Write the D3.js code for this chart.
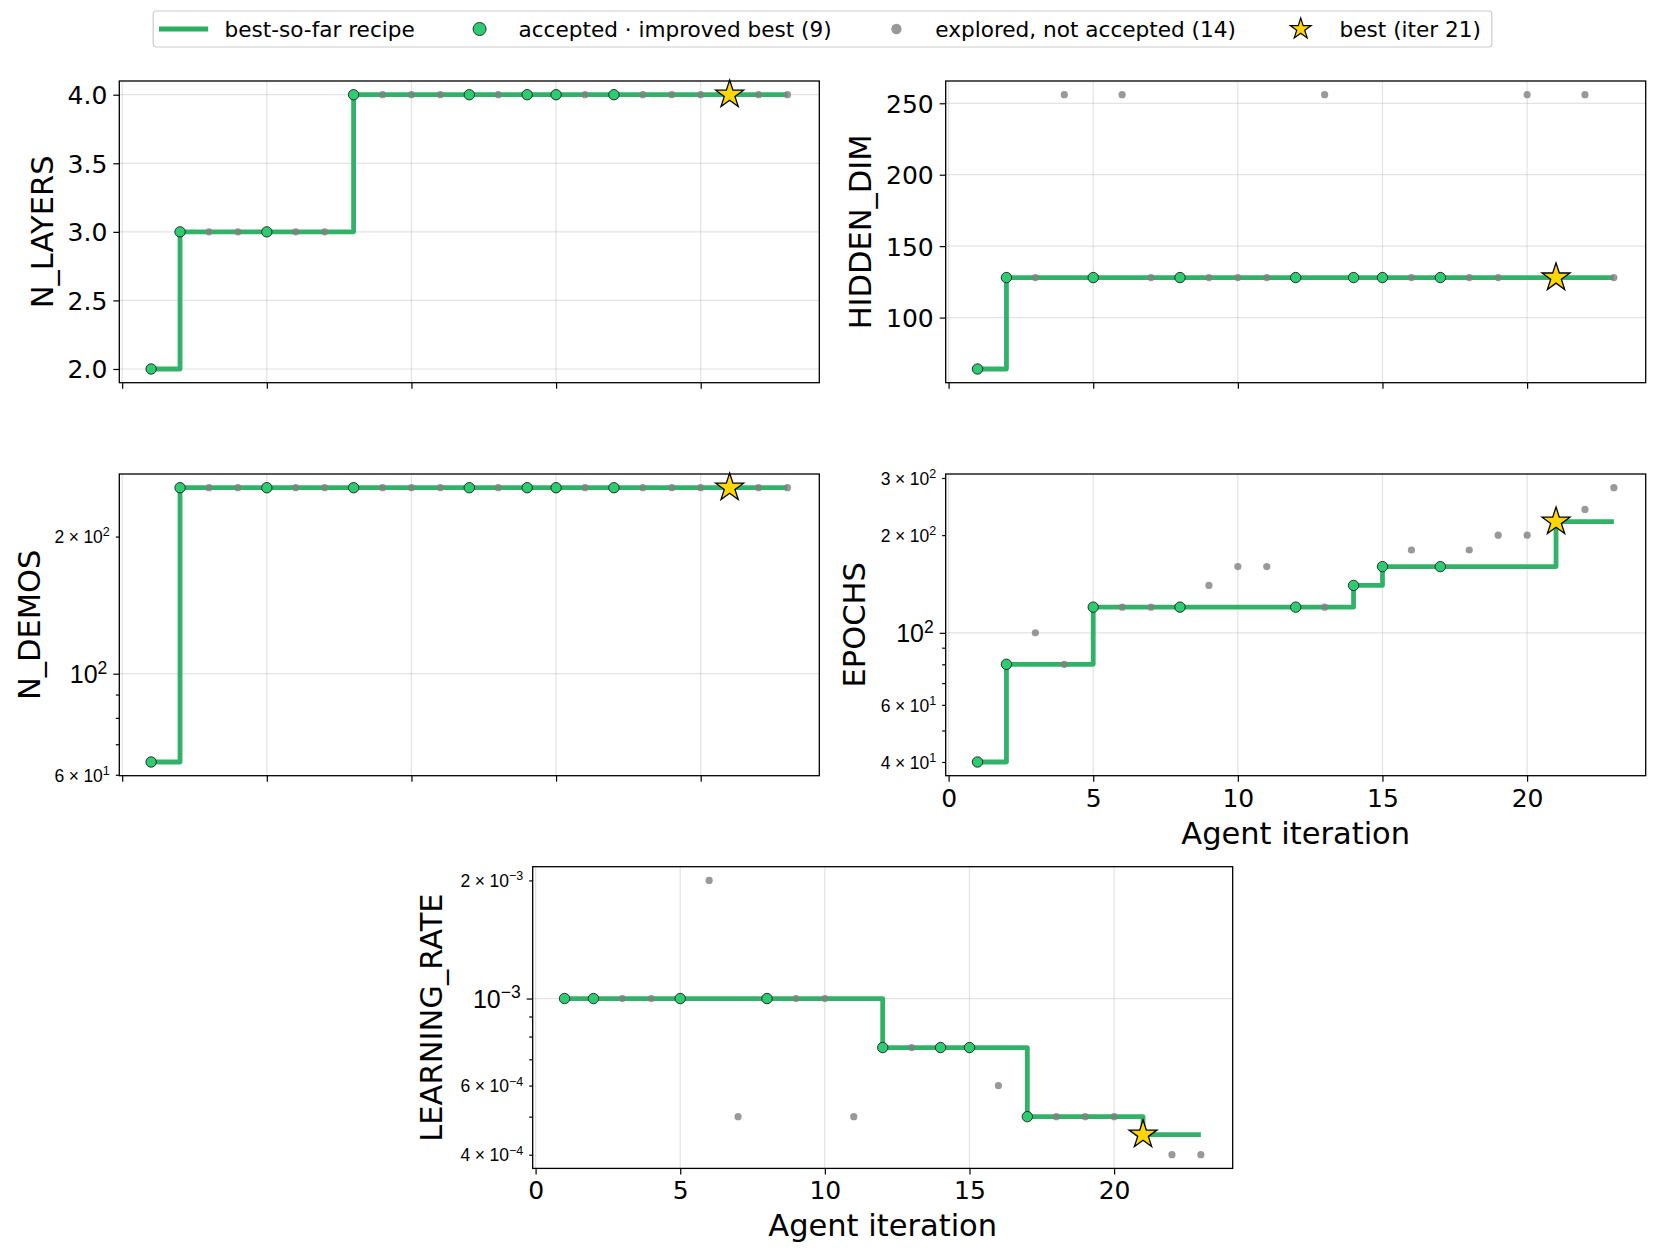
<!DOCTYPE html>
<html>
<head>
<meta charset="utf-8">
<script src="https://cdn.jsdelivr.net/npm/d3@7"></script>
<style>
  body { margin: 0; background: #fff; }
  svg { font-family: "DejaVu Sans", sans-serif; }
</style>
</head>
<body>
<div id="vis"></div>
<script>
//data, one value per agent iteration
const iterations = [1, 2, 3, 4, 5, 6, 7, 8, 9, 10, 11, 12, 13, 14, 15, 16, 17, 18, 19, 20, 21, 22, 23]
const acceptedIters = [1, 2, 5, 8, 12, 14, 15, 17, 21]
const exploredIters = [3, 4, 6, 7, 9, 10, 11, 13, 16, 18, 19, 20, 22, 23]
const bestIter = 21

const nLayers = [2, 3, 3, 3, 3, 3, 3, 4, 4, 4, 4, 4, 4, 4, 4, 4, 4, 4, 4, 4, 4, 4, 4]
const hiddenDim = [64, 128, 128, 256, 128, 256, 128, 128, 128, 128, 128, 128, 256, 128, 128, 128, 128, 128, 128, 256, 128, 256, 128]
const nDemos = [64, 256, 256, 256, 256, 256, 256, 256, 256, 256, 256, 256, 256, 256, 256, 256, 256, 256, 256, 256, 256, 256, 256]
const epochs = [40, 80, 100, 80, 120, 120, 120, 120, 140, 160, 160, 120, 120, 140, 160, 180, 160, 180, 200, 200, 220, 240, 280]
const learningRate = [1e-3, 1e-3, 1e-3, 1e-3, 1e-3, 2e-3, 5e-4, 1e-3, 1e-3, 1e-3, 5e-4, 7.5e-4, 7.5e-4, 7.5e-4, 7.5e-4, 6e-4, 5e-4, 5e-4, 5e-4, 5e-4, 4.5e-4, 4e-4, 4e-4]

//tick labels
const xTicks = [0, 5, 10, 15, 20]
const nLayersTicks = [2.0, 2.5, 3.0, 3.5, 4.0]
const hiddenDimTicks = [100, 150, 200, 250]
const logLabelledSubs = [2, 3, 4, 6]

const legendLabels = [
    "best-so-far recipe",
    "accepted \u00b7 improved best (" + acceptedIters.length + ")",
    "explored, not accepted (" + exploredIters.length + ")",
    "best (iter " + bestIter + ")"
]

//colours
const lineColor = "#27ae60"
const acceptedColor = "#2ecc71"
const exploredColor = "#808080"
const starColor = "#ffd700"

const width = 1657
const height = 1256
const panelW = 700
const panelH = 301.7
const tickLen = 6
const minorLen = 3.5
const tickPad = 6

const svg = d3.select("#vis")
    .append("svg")
    .attr("width", width)
    .attr("height", height)

//panel layout (labelX = baseline of the rotated y label, relative to the left spine)
const panels = [
    { label: "N_LAYERS", values: nLayers, log: false, ticks: nLayersTicks, fmt: d3.format(".1f"), left: 119.3, top: 81, xLabels: false, labelX: -66 },
    { label: "HIDDEN_DIM", values: hiddenDim, log: false, ticks: hiddenDimTicks, fmt: d3.format("d"), left: 945.7, top: 81, xLabels: false, labelX: -75 },
    { label: "N_DEMOS", values: nDemos, log: true, left: 119.3, top: 474, xLabels: false, labelX: -79 },
    { label: "EPOCHS", values: epochs, log: true, left: 945.7, top: 474, xLabels: true, labelX: -81 },
    { label: "LEARNING_RATE", values: learningRate, log: true, left: 532.7, top: 866.7, xLabels: true, labelX: -91 }
]

//5% padding like matplotlib autoscale
function padLinear(ext) {
    const r = ext[1] - ext[0]
    return [ext[0] - 0.05 * r, ext[1] + 0.05 * r]
}
function padLog(ext) {
    const a = Math.log10(ext[0]), b = Math.log10(ext[1])
    const r = b - a
    return [Math.pow(10, a - 0.05 * r), Math.pow(10, b + 0.05 * r)]
}

function logTicks(domain) {
    const out = []
    for (let e = Math.floor(Math.log10(domain[0])); e <= Math.ceil(Math.log10(domain[1])); e++) {
        for (let k = 1; k <= 9; k++) {
            const v = k * Math.pow(10, e)
            if (v >= domain[0] && v <= domain[1]) out.push({ v: v, k: k, e: e })
        }
    }
    return out
}

function supText(e) {
    return (e < 0 ? "\u2212" : "") + Math.abs(e)
}

function starPath(R) {
    const r = R * 0.381966
    const pts = []
    for (let i = 0; i < 10; i++) {
        const a = -Math.PI / 2 + i * Math.PI / 5
        const rad = i % 2 ? r : R
        pts.push([rad * Math.cos(a), rad * Math.sin(a)])
    }
    return "M" + pts.map(p => p[0].toFixed(2) + "," + p[1].toFixed(2)).join("L") + "Z"
}

const x = d3.scaleLinear()
    .domain(padLinear(d3.extent(iterations)))
    .range([0, panelW])

panels.forEach(p => {
    const g = svg.append("g").attr("transform", `translate(${p.left}, ${p.top})`)

    const y = p.log
        ? d3.scaleLog().domain(padLog(d3.extent(p.values))).range([panelH, 0])
        : d3.scaleLinear().domain(padLinear(d3.extent(p.values))).range([panelH, 0])

    const lt = p.log ? logTicks(y.domain()) : null
    const majorY = p.log ? lt.filter(t => t.k === 1).map(t => t.v) : p.ticks

    //grid
    g.append("g").selectAll("line")
        .data(xTicks)
        .enter().append("line")
        .attr("x1", d => x(d)).attr("x2", d => x(d))
        .attr("y1", 0).attr("y2", panelH)
        .attr("stroke", "#b0b0b0").attr("stroke-opacity", 0.35).attr("stroke-width", 1.2)
    g.append("g").selectAll("line")
        .data(majorY)
        .enter().append("line")
        .attr("x1", 0).attr("x2", panelW)
        .attr("y1", d => y(d)).attr("y2", d => y(d))
        .attr("stroke", "#b0b0b0").attr("stroke-opacity", 0.35).attr("stroke-width", 1.2)

    //best-so-far step line through the accepted iterations, held to the last iteration
    const val = i => p.values[iterations.indexOf(i)]
    const stepPts = acceptedIters.map(i => [i, val(i)])
    stepPts.push([d3.max(iterations), val(bestIter)])
    const line = d3.line()
        .x(d => x(d[0]))
        .y(d => y(d[1]))
        .curve(d3.curveStepAfter)
    g.append("path")
        .attr("d", line(stepPts))
        .attr("fill", "none")
        .attr("stroke", lineColor)
        .attr("stroke-opacity", 0.95)
        .attr("stroke-width", 4.8)
        .attr("stroke-linejoin", "round")

    //explored points
    g.append("g").selectAll("circle")
        .data(exploredIters)
        .enter().append("circle")
        .attr("cx", d => x(d))
        .attr("cy", d => y(val(d)))
        .attr("r", 3.6)
        .attr("fill", exploredColor)
        .attr("fill-opacity", 0.8)

    //accepted points
    g.append("g").selectAll("circle")
        .data(acceptedIters)
        .enter().append("circle")
        .attr("cx", d => x(d))
        .attr("cy", d => y(val(d)))
        .attr("r", 5.2)
        .attr("fill", acceptedColor)
        .attr("stroke", "#1e1e1e")
        .attr("stroke-width", 0.9)

    //best star
    g.append("path")
        .attr("d", starPath(14.7))
        .attr("transform", `translate(${x(bestIter)}, ${y(val(bestIter))})`)
        .attr("fill", starColor)
        .attr("stroke", "#000")
        .attr("stroke-width", 1.3)
        .attr("stroke-linejoin", "miter")

    //frame
    g.append("rect")
        .attr("width", panelW).attr("height", panelH)
        .attr("fill", "none").attr("stroke", "#000").attr("stroke-width", 1.3)

    //x axis
    const xAxis = g.append("g")
        .attr("transform", `translate(0, ${panelH})`)
        .call(d3.axisBottom(x).tickValues(xTicks).tickSize(tickLen).tickPadding(tickPad)
            .tickFormat(p.xLabels ? d3.format("d") : () => ""))
    xAxis.select(".domain").remove()
    xAxis.selectAll("line").attr("stroke", "#000").attr("stroke-width", 1.2)
    xAxis.selectAll("text")
        .attr("y", 31).attr("dy", 0)
        .attr("fill", "#000")
        .style("font-size", "25px")
        .style("font-family", "DejaVu Sans")

    //y axis
    let yAxis
    if (!p.log) {
        yAxis = g.append("g")
            .call(d3.axisLeft(y).tickValues(p.ticks).tickSize(tickLen).tickPadding(tickPad).tickFormat(p.fmt))
        yAxis.selectAll("text")
            .attr("dy", "0.36em")
            .attr("fill", "#000")
            .style("font-size", "25px")
            .style("font-family", "DejaVu Sans")
    } else {
        yAxis = g.append("g")
            .call(d3.axisLeft(y).tickValues(lt.map(t => t.v)).tickSize(tickLen).tickFormat(() => ""))
        yAxis.selectAll(".tick")
            .each(function (d) {
                const t = lt.find(o => o.v === d)
                const tick = d3.select(this)
                tick.select("text").remove()
                if (t.k !== 1) tick.select("line").attr("x2", -minorLen)
                if (t.k === 1) {
                    const txt = tick.append("text")
                        .attr("x", -(tickLen + tickPad)).attr("dy", "0.36em")
                        .attr("text-anchor", "end")
                        .attr("fill", "#000")
                        .style("font-size", "25px")
                    txt.append("tspan").text("10")
                    txt.append("tspan").attr("dy", "-0.55em").style("font-size", "17.5px").text(supText(t.e))
                } else if (logLabelledSubs.includes(t.k)) {
                    const txt = tick.append("text")
                        .attr("x", -(minorLen + tickPad)).attr("dy", "0.36em")
                        .attr("text-anchor", "end")
                        .attr("fill", "#000")
                        .style("font-size", "17.5px")
                    txt.append("tspan").text(t.k)
                    txt.append("tspan").attr("dx", 4.5).text("\u00d7")
                    txt.append("tspan").attr("dx", 4.5).text("10")
                    txt.append("tspan").attr("dy", "-0.55em").style("font-size", "12.5px").text(supText(t.e))
                }
            })
    }
    yAxis.select(".domain").remove()
    yAxis.selectAll("line").attr("stroke", "#000").attr("stroke-width", 1.2)

    g.append("text")
        .attr("transform", `translate(${p.labelX}, ${panelH / 2}) rotate(-90)`)
        .attr("text-anchor", "middle")
        .style("font-size", "30.5px")
        .text(p.label)

    if (p.xLabels) {
        g.append("text")
            .attr("x", panelW / 2)
            .attr("y", panelH + 68)
            .attr("text-anchor", "middle")
            .style("font-size", "30.5px")
            .text("Agent iteration")
    }
})

//legend across the top
const fs = 21.6
const legend = svg.append("g")
const items = legend.selectAll("g")
    .data(legendLabels)
    .enter().append("g")
items.append("text")
    .attr("dy", "0.35em")
    .style("font-size", fs + "px")
    .text(d => d)
const textW = []
items.select("text").each(function () { textW.push(this.getComputedTextLength()) })

const handleLen = 2 * fs, handlePad = 0.8 * fs, colSpace = 2 * fs, borderPad = 0.5 * fs
const totalW = 2 * borderPad + d3.sum(textW) + 4 * (handleLen + handlePad) + 3 * colSpace
const boxLeft = 822.5 - totalW / 2
const boxTop = 11, boxH = 36
const cy = boxTop + boxH / 2

legend.insert("rect", ":first-child")
    .attr("x", boxLeft).attr("y", boxTop)
    .attr("width", totalW).attr("height", boxH)
    .attr("rx", 3)
    .attr("fill", "#fff")
    .attr("stroke", "#cccccc")
    .attr("stroke-width", 1.2)

let cx = boxLeft + borderPad
items.each(function (d, i) {
    const it = d3.select(this).attr("transform", `translate(${cx}, ${cy})`)
    const hc = handleLen / 2
    if (i === 0) {
        it.append("line").attr("x1", -5).attr("x2", handleLen + 1)
            .attr("stroke", lineColor).attr("stroke-width", 4.8)
    } else if (i === 1) {
        it.append("circle").attr("cx", hc).attr("r", 6.5)
            .attr("fill", acceptedColor).attr("stroke", "#1e1e1e").attr("stroke-width", 0.9)
    } else if (i === 2) {
        it.append("circle").attr("cx", hc).attr("r", 5.2)
            .attr("fill", exploredColor).attr("fill-opacity", 0.8)
    } else {
        it.append("path").attr("d", starPath(11)).attr("transform", `translate(${hc}, 0)`)
            .attr("fill", starColor).attr("stroke", "#000").attr("stroke-width", 1.2)
    }
    it.select("text").attr("x", handleLen + handlePad)
    cx += handleLen + handlePad + textW[i] + colSpace
})
</script>
</body>
</html>
